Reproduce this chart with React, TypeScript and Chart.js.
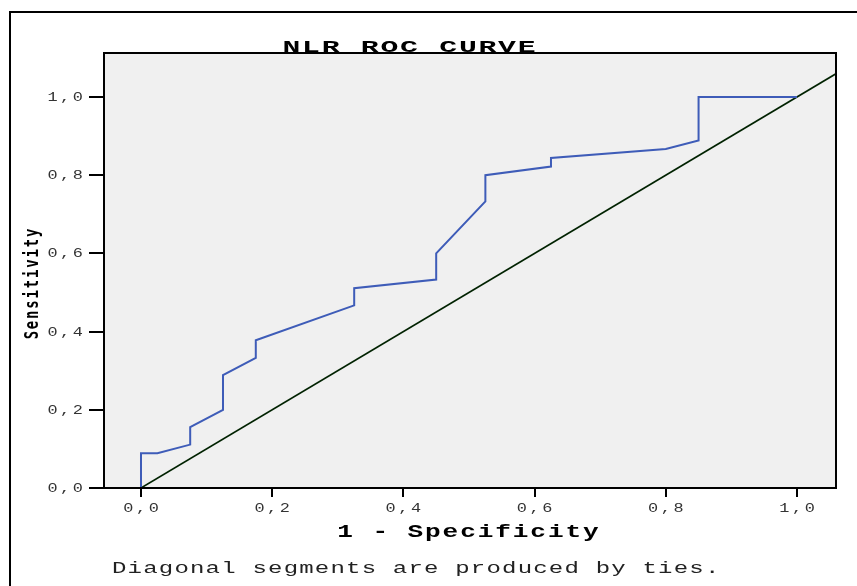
import React, { useEffect, useRef } from "react";
import { Chart, registerables } from "chart.js";

Chart.register(...registerables);

// ROC curve: 1 - specificity (x) and sensitivity (y)
const fprValues = [0, 0, 0.025, 0.075, 0.075, 0.125, 0.125, 0.175, 0.175, 0.325, 0.325, 0.45, 0.45, 0.525, 0.525, 0.625, 0.625, 0.8, 0.85, 0.85, 1.0];
const tprValues = [0, 0.089, 0.089, 0.111, 0.156, 0.2, 0.289, 0.333, 0.378, 0.467, 0.511, 0.533, 0.6, 0.733, 0.8, 0.822, 0.844, 0.867, 0.889, 1.0, 1.0];

// reference line
const diagX = [0, 1.06];
const diagY = [0, 1.06];

const xTickValues = [0, 0.2, 0.4, 0.6, 0.8, 1.0];
const yTickValues = [0, 0.2, 0.4, 0.6, 0.8, 1.0];
const fmt = (v: number) => v.toFixed(1).replace(".", ",");

const TITLE = "NLR ROC CURVE";
const X_TITLE = "1 - Specificity";
const Y_TITLE = "Sensitivity";
const FOOTNOTE = "Diagonal segments are produced by ties.";

const X_MIN = -0.0564;
const X_MAX = 1.0595;
const Y_MIN = 0;
const Y_MAX = 1.1125;

type TextOpts = {
  font: string;
  sx?: number;
  sy?: number;
  spacing?: number;
  align?: "left" | "center" | "right";
  rotate?: boolean;
  color?: string;
  baseline?: CanvasTextBaseline;
};

function drawText(ctx: CanvasRenderingContext2D, text: string, x: number, y: number, o: TextOpts) {
  ctx.save();
  ctx.translate(x, y);
  if (o.rotate) ctx.rotate(-Math.PI / 2);
  ctx.scale(o.sx ?? 1, o.sy ?? 1);
  ctx.font = o.font;
  (ctx as any).letterSpacing = (o.spacing ?? 0) + "px";
  ctx.fillStyle = o.color ?? "#000";
  ctx.textBaseline = o.baseline ?? "alphabetic";
  ctx.textAlign = "left";
  const w = ctx.measureText(text).width - (o.spacing ?? 0);
  let dx = 0;
  if (o.align === "center") dx = -w / 2;
  else if (o.align === "right") dx = -w;
  ctx.fillText(text, dx, 0);
  ctx.restore();
}

const decorPlugin = {
  id: "decor",
  beforeDraw(chart: any) {
    const ctx: CanvasRenderingContext2D = chart.ctx;
    const a = chart.chartArea;
    ctx.save();
    ctx.fillStyle = "#ffffff";
    ctx.fillRect(0, 0, chart.width, chart.height);
    ctx.fillStyle = "#f0f0f0";
    ctx.fillRect(a.left, a.top, a.right - a.left, a.bottom - a.top);
    ctx.restore();
  },
  afterDraw(chart: any) {
    const ctx: CanvasRenderingContext2D = chart.ctx;
    const a = chart.chartArea;
    ctx.save();
    ctx.strokeStyle = "#000";
    ctx.lineWidth = 2;
    ctx.strokeRect(a.left, a.top, a.right - a.left, a.bottom - a.top);
    // outer frame
    ctx.beginPath();
    ctx.moveTo(10, chart.height + 5);
    ctx.lineTo(10, 12);
    ctx.lineTo(chart.width + 5, 12);
    ctx.stroke();
    ctx.restore();

    const xs = chart.scales.x;
    const ys = chart.scales.y;
    const tickFont = "13px 'Liberation Mono'";
    yTickValues.forEach((v) => {
      drawText(ctx, fmt(v), a.left - 21, ys.getPixelForValue(v) + 4, {
        font: tickFont, sx: 1.3, spacing: 2, align: "right", color: "#333",
      });
    });
    xTickValues.forEach((v) => {
      drawText(ctx, fmt(v), xs.getPixelForValue(v), a.bottom + 24, {
        font: tickFont, sx: 1.3, spacing: 2, align: "center", color: "#333",
      });
    });
    drawText(ctx, TITLE, 409, a.top - 1, {
      font: "bold 17px 'Liberation Mono'", sx: 1.75, spacing: 1, align: "center",
    });
    drawText(ctx, X_TITLE, (a.left + a.right) / 2 - 2, a.bottom + 49, {
      font: "bold 18px 'Liberation Mono'", sx: 1.45, spacing: 1.3, align: "center",
    });
    drawText(ctx, Y_TITLE, 33, 284, {
      font: "bold 14px 'DejaVu Sans Mono'", sy: 1.4, spacing: 1.8, align: "center",
      rotate: true, baseline: "middle",
    });
    drawText(ctx, FOOTNOTE, 112, a.bottom + 85, {
      font: "16px 'Liberation Mono'", sx: 1.5, spacing: 0.8, align: "left", color: "#222",
    });
  },
};

export default function App() {
  const ref = useRef<HTMLCanvasElement | null>(null);

  useEffect(() => {
    if (!ref.current) return;
    const roc = fprValues.map((x, i) => ({ x, y: tprValues[i] }));
    const diag = diagX.map((x, i) => ({ x, y: diagY[i] }));
    const chart = new Chart(ref.current, {
      type: "line",
      data: {
        datasets: [
          {
            label: "ROC",
            data: roc,
            borderColor: "#3e5cb8",
            borderWidth: 2,
            pointRadius: 0,
            tension: 0,
            fill: false,
          },
          {
            label: "Reference",
            data: diag,
            borderColor: "#002200",
            borderWidth: 1.6,
            pointRadius: 0,
            tension: 0,
            fill: false,
          },
        ],
      },
      options: {
        animation: false,
        responsive: false,
        devicePixelRatio: 1,
        layout: { padding: { left: 0, top: 53, right: 21, bottom: 0 } },
        plugins: {
          legend: { display: false },
          title: { display: false },
          tooltip: { enabled: false },
        },
        events: [],
        scales: {
          x: {
            type: "linear",
            min: X_MIN,
            max: X_MAX,
            afterBuildTicks: (s: any) => {
              s.ticks = xTickValues.map((v) => ({ value: v }));
            },
            afterFit: (s: any) => {
              s.height = 98;
            },
            ticks: { display: false },
            grid: {
              display: true,
              drawOnChartArea: false,
              drawTicks: true,
              tickLength: 9,
              color: "#000",
              lineWidth: 2,
            },
            border: { display: true, color: "#000", width: 2 },
          },
          y: {
            type: "linear",
            min: Y_MIN,
            max: Y_MAX,
            afterBuildTicks: (s: any) => {
              s.ticks = yTickValues.map((v) => ({ value: v }));
            },
            afterFit: (s: any) => {
              s.width = 104;
            },
            ticks: { display: false },
            grid: {
              display: true,
              drawOnChartArea: false,
              drawTicks: true,
              tickLength: 15,
              color: "#000",
              lineWidth: 2,
            },
            border: { display: true, color: "#000", width: 2 },
          },
        },
      },
      plugins: [decorPlugin],
    } as any);
    return () => chart.destroy();
  }, []);

  return (
    <div style={{ position: "absolute", left: 0, top: 0, width: 857, height: 586, overflow: "hidden" }}>
      <canvas ref={ref} width={857} height={586} style={{ display: "block" }} />
    </div>
  );
}
